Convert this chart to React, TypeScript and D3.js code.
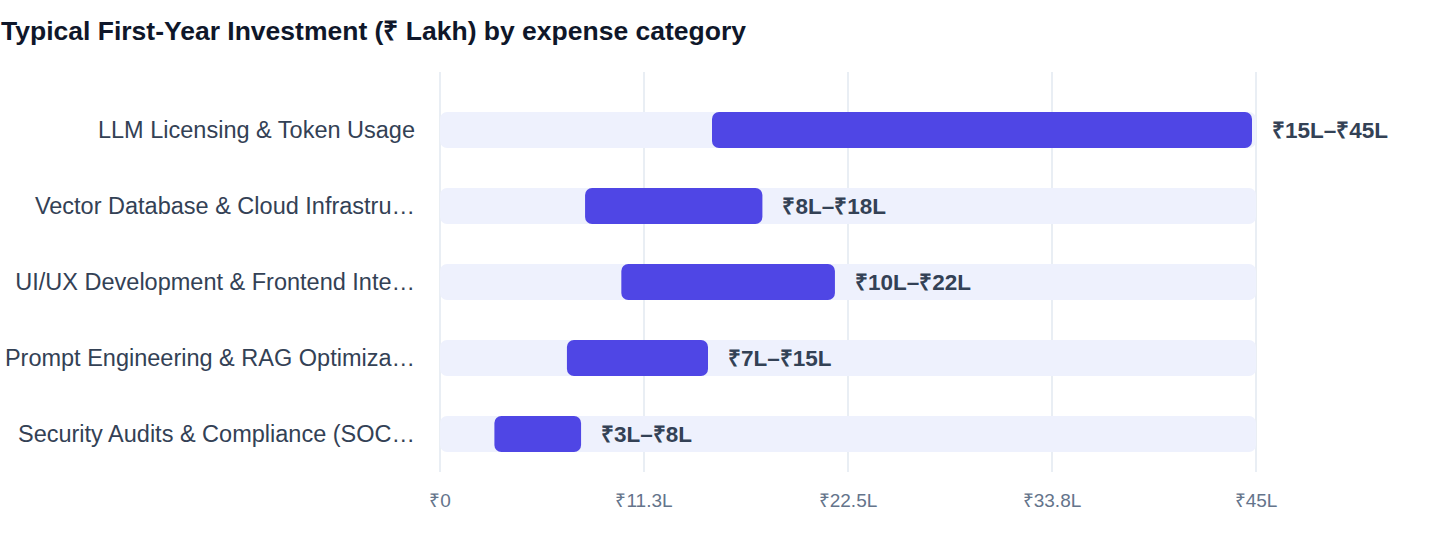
import React, { useEffect, useRef } from 'react';
import * as d3 from 'd3';

const categories = [
  'LLM Licensing & Token Usage',
  'Vector Database & Cloud Infrastru…',
  'UI/UX Development & Frontend Inte…',
  'Prompt Engineering & RAG Optimiza…',
  'Security Audits & Compliance (SOC…',
];
const lowValues = [15, 8, 10, 7, 3];
const highValues = [45, 18, 22, 15, 8];
const tickValues = [0, 11.25, 22.5, 33.75, 45];
const tickLabels = ['₹0', '₹11.3L', '₹22.5L', '₹33.8L', '₹45L'];

const FONT = 'Helvetica, Arial, "Liberation Sans", sans-serif';

const App = () => {
  const ref = useRef<SVGSVGElement | null>(null);

  useEffect(() => {
    const svg = d3.select(ref.current);
    svg.selectAll('*').remove();

    const x = d3.scaleLinear().domain([0, 45]).range([440, 1256]);
    const y = d3
      .scaleBand<string>()
      .domain(categories)
      .range([92, 472])
      .paddingInner(0.526)
      .paddingOuter(0.263);

    // title
    svg.append('text')
      .attr('x', 1)
      .attr('y', 40)
      .attr('font-family', FONT)
      .attr('font-size', 26.5)
      .attr('font-weight', 700)
      .attr('fill', '#0f172a')
      .text('Typical First-Year Investment (₹ Lakh) by expense category');

    // grid
    svg.append('g')
      .selectAll('line')
      .data(tickValues)
      .enter().append('line')
      .attr('x1', d => x(d))
      .attr('x2', d => x(d))
      .attr('y1', 72)
      .attr('y2', 472)
      .attr('stroke', '#e2e8f0')
      .attr('stroke-width', 1.5);

    // tick labels
    svg.append('g')
      .selectAll('text')
      .data(tickValues)
      .enter().append('text')
      .attr('x', d => x(d))
      .attr('y', 507)
      .attr('text-anchor', 'middle')
      .attr('font-family', FONT)
      .attr('font-size', 19)
      .attr('fill', '#64748b')
      .text((d, i) => tickLabels[i]);

    const rows = categories.map((c, i) => ({ c, lo: lowValues[i], hi: highValues[i] }));

    // tracks
    svg.append('g')
      .selectAll('rect')
      .data(rows)
      .enter().append('rect')
      .attr('x', x(0))
      .attr('y', d => y(d.c) as number)
      .attr('width', x(45) - x(0))
      .attr('height', y.bandwidth())
      .attr('rx', 7)
      .attr('fill', '#eef1fd');

    // range bars
    svg.append('g')
      .selectAll('rect')
      .data(rows)
      .enter().append('rect')
      .attr('x', d => x(d.lo))
      .attr('y', d => y(d.c) as number)
      .attr('width', d => x(d.hi) - x(d.lo) - 4)
      .attr('height', y.bandwidth())
      .attr('rx', 7)
      .attr('fill', '#4f46e5');

    // category labels
    svg.append('g')
      .selectAll('text')
      .data(rows)
      .enter().append('text')
      .attr('x', 415)
      .attr('y', d => (y(d.c) as number) + y.bandwidth() / 2)
      .attr('dy', '0.35em')
      .attr('text-anchor', 'end')
      .attr('font-family', FONT)
      .attr('font-size', 23.5)
      .attr('fill', '#334155')
      .text(d => d.c);

    // value labels
    svg.append('g')
      .selectAll('text')
      .data(rows)
      .enter().append('text')
      .attr('x', d => x(d.hi) + 16)
      .attr('y', d => (y(d.c) as number) + y.bandwidth() / 2)
      .attr('dy', '0.35em')
      .attr('font-family', FONT)
      .attr('font-size', 22.5)
      .attr('font-weight', 700)
      .attr('fill', '#334155')
      .text(d => `₹${d.lo}L–₹${d.hi}L`);
  }, []);

  return (
    <svg
      ref={ref}
      width={1440}
      height={560}
      style={{ position: 'absolute', left: 0, top: 0, background: '#fff' }}
    />
  );
};

export default App;
